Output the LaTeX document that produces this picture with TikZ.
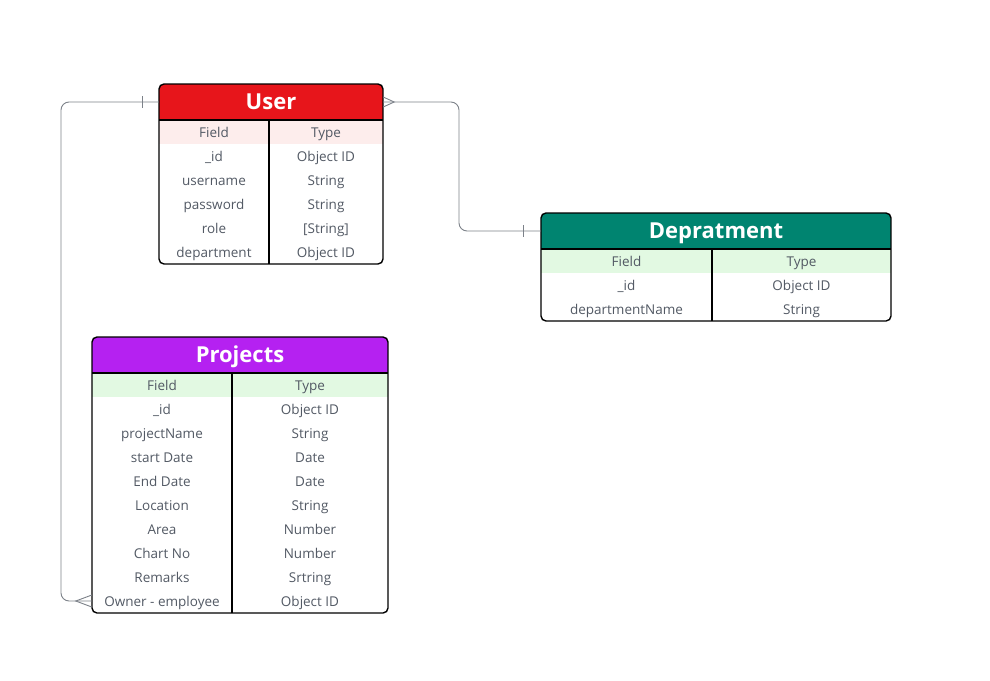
\documentclass[tikz,border=0pt]{standalone}
\usepackage{fontspec}
\setmainfont{Open Sans}
\usepackage{tikz}
\usetikzlibrary{positioning}
\definecolor{userred}{HTML}{E7151B}
\definecolor{deptgreen}{HTML}{008470}
\definecolor{projpurple}{HTML}{B521F1}
\definecolor{rowpink}{HTML}{FDEDEC}
\definecolor{rowgreen}{HTML}{E2F9E2}
\definecolor{txtgray}{HTML}{525964}
\definecolor{linkgray}{HTML}{7C8189}
\tikzset{title/.style = {text=white, font=\bfseries\fontsize{22}{26}\selectfont, inner sep=0, minimum height=36, text height=17, text depth=2}}
\tikzset{cell/.style = {text=txtgray, font=\fontsize{13.5}{16}\selectfont, inner sep=0, minimum height=24, text height=12, text depth=2}}
\tikzset{frame/.style = {draw=black, line width=1.4}}
\tikzset{link/.style = {draw=linkgray, line width=0.9, rounded corners=8}}

\begin{document}
\begin{tikzpicture}[x=1pt,y=-1pt]
        \useasboundingbox (0,0) rectangle (990,680);
        % User
        \begin{scope}
            \clip[rounded corners=5] (159,84) rectangle (383,264);
            \node[title, fill=userred, minimum width=224] (user) at (271,102) {User};
            \fill[rowpink] (159,120) rectangle (383,144);
        \end{scope}
        \node[cell, minimum width=110] (u-f0) at (214,132) {Field};
        \node[cell, minimum width=114] (u-t0) at (326,132) {Type};
        \foreach \f/\t [count=\i] in {\_id/Object ID, username/String, password/String, role/{[String]}, department/Object ID}
            {\node[cell, minimum width=110] (u-f\i) at (214,132+24*\i) {\f};
             \node[cell, minimum width=114] (u-t\i) at (326,132+24*\i) {\t};}
        \draw[frame] (159,120) -- (383,120) (269,120) -- (269,264);
        \draw[frame, rounded corners=5] (159,84) rectangle (383,264);
        % Depratment
        \begin{scope}
            \clip[rounded corners=5] (541,213) rectangle (891,321);
            \node[title, fill=deptgreen, minimum width=350] (dept) at (716,231) {Depratment};
            \fill[rowgreen] (541,249) rectangle (891,273);
        \end{scope}
        \node[cell, minimum width=171] (d-f0) at (626.5,261) {Field};
        \node[cell, minimum width=179] (d-t0) at (801.5,261) {Type};
        \foreach \f/\t [count=\i] in {\_id/Object ID, departmentName/String}
            {\node[cell, minimum width=171] (d-f\i) at (626.5,261+24*\i) {\f};
             \node[cell, minimum width=179] (d-t\i) at (801.5,261+24*\i) {\t};}
        \draw[frame] (541,249) -- (891,249) (712,249) -- (712,321);
        \draw[frame, rounded corners=5] (541,213) rectangle (891,321);
        % Projects
        \begin{scope}
            \clip[rounded corners=5] (92,337) rectangle (388,613);
            \node[title, fill=projpurple, minimum width=296] (proj) at (240,355) {Projects};
            \fill[rowgreen] (92,373) rectangle (388,397);
        \end{scope}
        \node[cell, minimum width=140] (p-f0) at (162,385) {Field};
        \node[cell, minimum width=156] (p-t0) at (310,385) {Type};
        \foreach \f/\t [count=\i] in {\_id/Object ID, projectName/String, start Date/Date, End Date/Date, Location/String, Area/Number, Chart No/Number, Remarks/Srtring, Owner - employee/Object ID}
            {\node[cell, minimum width=140] (p-f\i) at (162,385+24*\i) {\f};
             \node[cell, minimum width=156] (p-t\i) at (310,385+24*\i) {\t};}
        \draw[frame] (92,373) -- (388,373) (232,373) -- (232,613);
        \draw[frame, rounded corners=5] (92,337) rectangle (388,613);
        % relations
        \coordinate (bendL) at (61,102);
        \coordinate (bendR) at (459,102);
        \draw[link] (user.west) -- (bendL) |- (p-f9.west);
        \draw[link] (user.east) -- (bendR) |- (dept.west);
        \draw[linkgray, line width=0.9] ([xshift=-16]user.west) ++(0,-6) -- ++(0,12);
        \draw[linkgray, line width=0.9] ([xshift=-17]dept.west) ++(0,-6) -- ++(0,12);
        \draw[linkgray, line width=0.9] ([yshift=-6]p-f9.west) -- ([xshift=-16]p-f9.west) -- ([yshift=6]p-f9.west);
        \draw[linkgray, line width=0.9] ([yshift=-5]user.east) -- ([xshift=11]user.east) -- ([yshift=5]user.east);
\end{tikzpicture}
\end{document}
